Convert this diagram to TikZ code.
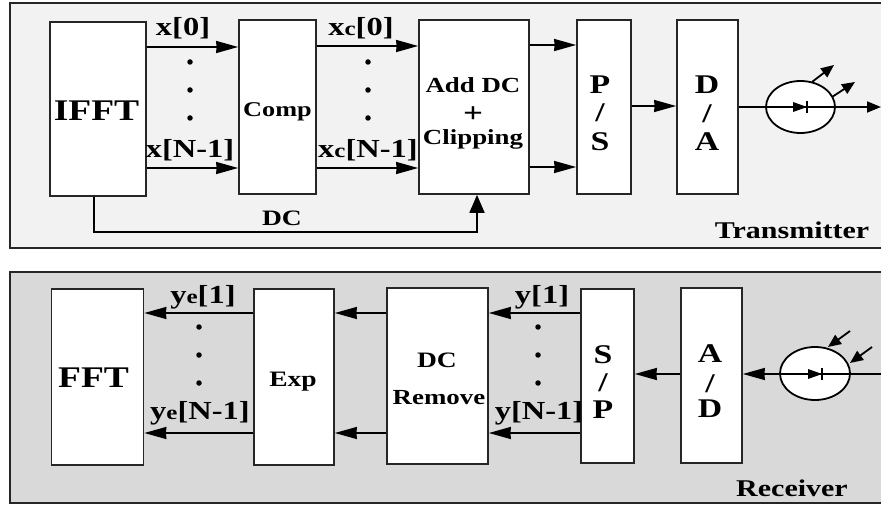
\documentclass[tikz,border=0pt]{standalone}
\usepackage{fontspec}
\setmainfont[FakeStretch=1.25]{Liberation Serif}
\usetikzlibrary{arrows.meta,calc,shapes.geometric}
\newcommand{\fs}[1]{\fontsize{#1}{#1}\selectfont\bfseries}
\newcommand{\sm}[1]{{\fontsize{20}{20}\selectfont #1}}
\definecolor{txbg}{HTML}{F2F2F2}
\definecolor{rxbg}{HTML}{D9D9D9}
\tikzset{
  panel/.style={draw=black!85,line width=1.5pt,inner sep=0pt},
  blockbox/.style={draw=black!85,fill=white,line width=1.7pt,inner sep=0pt},
  sig/.style={line width=1.8pt,-{Stealth[length=22pt,width=12pt,inset=0.5pt]}},
  ray/.style={line width=1.8pt,-{Stealth[length=13pt,width=11pt,inset=0pt]}},
  pd/.style={draw=black,fill=white,ellipse,line width=1.8pt,inner sep=0pt},
  lbl/.style={inner sep=0pt,text=black},
  dotn/.style={circle,fill=black,inner sep=0pt,minimum size=5.5pt}
}
\begin{document}
\begin{tikzpicture}[x=1pt,y=-1pt]
\useasboundingbox (0,0) rectangle (881,505);
\fill[white] (0,0) rectangle (881,505);
\begin{scope}
\clip (0,0) rectangle (881,505);
\draw[panel,fill=txbg] (10,3) rectangle (884,248);
\draw[panel,fill=rxbg] (10,272) rectangle (884,503);
\end{scope}
% transmitter boxes
\node[blockbox,minimum width=96pt,minimum height=174pt] (ifft) at (98,109) {};
\node[blockbox,minimum width=77pt,minimum height=174pt] (comp) at (277.5,107) {};
\node[blockbox,minimum width=110pt,minimum height=174pt] (add) at (474,107) {};
\node[blockbox,minimum width=54pt,minimum height=174pt] (ps) at (604,107) {};
\node[blockbox,minimum width=61pt,minimum height=174pt] (da) at (707.5,107) {};
\coordinate (txout) at (881,107);
% transmitter labels
\node[lbl,font=\fs{30}] (tifft) at (96.5,110.5) {IFFT};
\node[lbl,font=\fs{21}] (tcomp) at (277.5,112) {Comp};
\node[lbl,font=\fs{21.5}] (tadd) at (473,85) {Add DC};
\node[lbl,font=\fs{28}] (tplus) at (473,115) {+};
\node[lbl,font=\fs{21.5}] (tclip) at (473,139) {Clipping};
\node[lbl,font=\fs{27}] (tp) at (600,85) {P};
\node[lbl,font=\fs{27}] (tpsl) at (600,113) {/};
\node[lbl,font=\fs{27}] (ts) at (600,142) {S};
\node[lbl,font=\fs{27}] (td) at (707,85) {D};
\node[lbl,font=\fs{27}] (tdal) at (707,114) {/};
\node[lbl,font=\fs{27}] (ta) at (707,142) {A};
\node[lbl,font=\fs{26}] (x0) at (183,28) {x[0]};
\node[lbl,font=\fs{26}] (xn) at (190,150) {x[N-1]};
\node[lbl,font=\fs{26}] (xc0) at (361,28) {x\sm{c}[0]};
\node[lbl,font=\fs{26}] (xcn) at (368,150) {x\sm{c}[N-1]};
\node[lbl,font=\fs{22}] (tdc) at (282,218) {DC};
\node[lbl,font=\fs{24}] (ttx) at (792,230) {Transmitter};
% dots
\foreach \i/\yy in {1/62,2/90,3/118}{
  \node[dotn] (d1\i) at (190,\yy) {};
  \node[dotn] (d2\i) at (368,\yy) {};
}
% transmitter arrows
\draw[sig] (ifft.east |- 0,47) -- (comp.west |- 0,47);
\draw[sig] (ifft.east |- 0,168) -- (comp.west |- 0,168);
\draw[sig] (comp.east |- 0,46) -- (add.west |- 0,46);
\draw[sig] (comp.east |- 0,168) -- (add.west |- 0,168);
\draw[sig] (add.east |- 0,45) -- (ps.west |- 0,45);
\draw[sig] (add.east |- 0,167) -- (ps.west |- 0,167);
\draw[sig] (ps.east |- 0,106) -- (da.west |- 0,106);
\draw[line width=1.8pt,-{Stealth[length=18pt,width=15pt,inset=0pt]}] (ifft.south -| 94,0) |- (300,232) -| (add.south -| 477,0);
% tx LED
\node[pd,minimum width=69pt,minimum height=52pt] (led) at (800.5,107) {};
\draw[line width=1.8pt,-{Stealth[length=14pt,width=11pt,inset=0pt]}] (da.east) -- (txout);
\fill (793,102) -- (807,107) -- (793,112) -- cycle;
\draw[line width=1.8pt] (807,101) -- (807,113);
\coordinate (t1a) at (812,82); \coordinate (t1b) at (834,65);
\coordinate (t2a) at (832,97); \coordinate (t2b) at (855,82);
\draw[ray] (t1a) -- (t1b);
\draw[ray] (t2a) -- (t2b);
% receiver boxes
\node[blockbox,minimum width=92pt,minimum height=176pt] (fft) at (97.5,377) {};
\node[blockbox,minimum width=80pt,minimum height=176pt] (exp) at (294,377) {};
\node[blockbox,minimum width=101pt,minimum height=176pt] (dcr) at (437.5,376) {};
\node[blockbox,minimum width=53pt,minimum height=174pt] (sp) at (607.5,376) {};
\node[blockbox,minimum width=61pt,minimum height=175pt] (ad) at (711.5,375.5) {};
\coordinate (rxin) at (881,374);
% receiver labels
\node[lbl,font=\fs{30}] (tfft) at (93.5,378) {FFT};
\node[lbl,font=\fs{22}] (texp) at (293,382) {Exp};
\node[lbl,font=\fs{22}] (tdcr) at (437,360) {DC};
\node[lbl,font=\fs{21.5}] (trem) at (439,398) {Remove};
\node[lbl,font=\fs{27}] (rs) at (603,355) {S};
\node[lbl,font=\fs{27}] (rsl) at (603,383) {/};
\node[lbl,font=\fs{27}] (rp) at (603,410) {P};
\node[lbl,font=\fs{27}] (ra) at (710,354) {A};
\node[lbl,font=\fs{27}] (rad) at (710,384) {/};
\node[lbl,font=\fs{27}] (rd) at (710,409) {D};
\node[lbl,font=\fs{26}] (ye1) at (203,297) {y\sm{e}[1]};
\node[lbl,font=\fs{26}] (yen) at (200,413) {y\sm{e}[N-1]};
\node[lbl,font=\fs{26}] (y1) at (542,297) {y[1]};
\node[lbl,font=\fs{26}] (yn) at (539,413) {y[N-1]};
\node[lbl,font=\fs{24}] (trx) at (792,488) {Receiver};
\foreach \i/\yy in {1/327,2/355,3/383}{
  \node[dotn] (d3\i) at (199,\yy) {};
  \node[dotn] (d4\i) at (538,\yy) {};
}
% receiver arrows
\draw[sig] (exp.west |- 0,313) -- (fft.east |- 0,313);
\draw[sig] (exp.west |- 0,433) -- (fft.east |- 0,433);
\draw[sig] (dcr.west |- 0,313) -- (exp.east |- 0,313);
\draw[sig] (dcr.west |- 0,433) -- (exp.east |- 0,433);
\draw[sig] (sp.west |- 0,313) -- (dcr.east |- 0,313);
\draw[sig] (sp.west |- 0,433) -- (dcr.east |- 0,433);
\draw[sig] (ad.west |- 0,374) -- (sp.east |- 0,374);
% rx photodiode
\node[pd,minimum width=70pt,minimum height=53pt] (pdr) at (815,373.5) {};
\draw[sig] (rxin) -- (ad.east |- 0,374);
\fill (808,369) -- (822,374) -- (808,379) -- cycle;
\draw[line width=1.8pt] (822,368) -- (822,380);
\coordinate (r1a) at (850,331); \coordinate (r1b) at (828,347);
\coordinate (r2a) at (872,347); \coordinate (r2b) at (850,363);
\draw[ray] (r1a) -- (r1b);
\draw[ray] (r2a) -- (r2b);
\end{tikzpicture}
\end{document}
